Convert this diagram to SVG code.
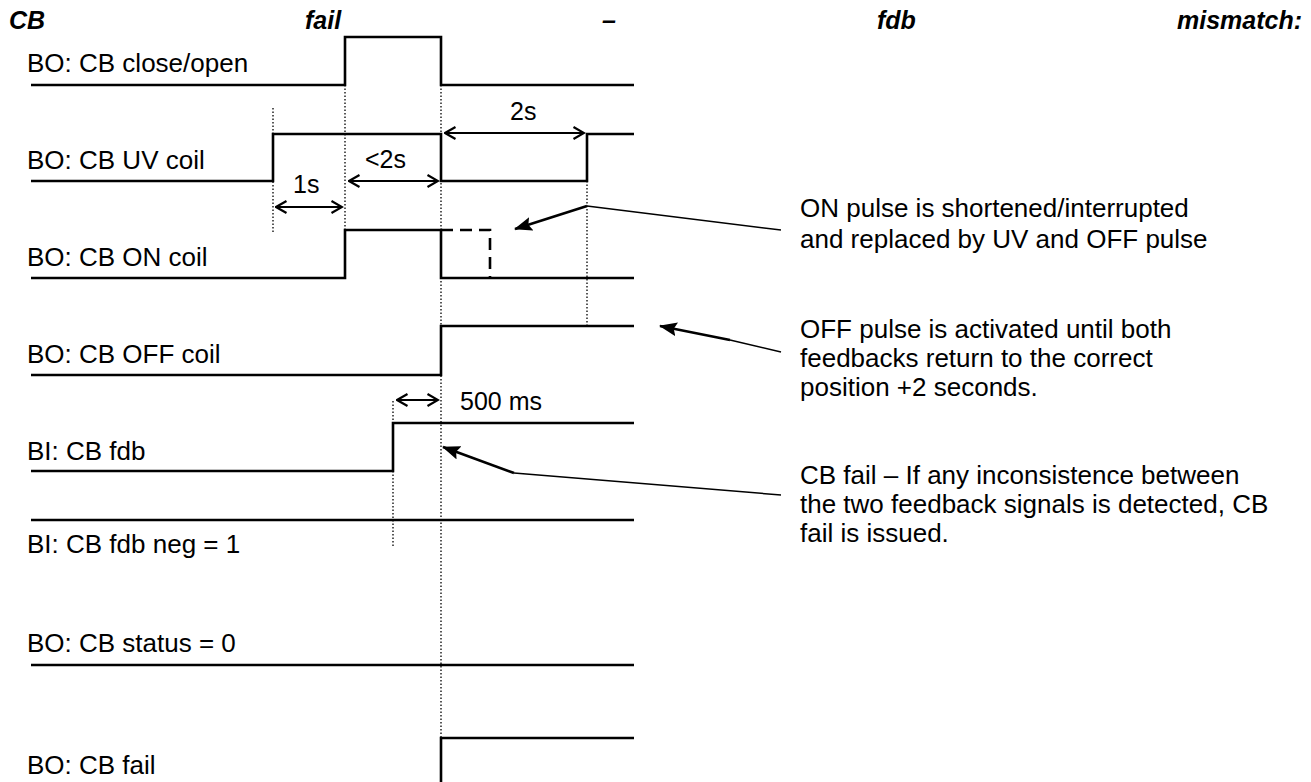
<svg xmlns="http://www.w3.org/2000/svg" width="1311" height="782" viewBox="0 0 1311 782">
<defs>
<marker id="open" viewBox="0 0 14 14" refX="12.5" refY="7" markerWidth="14" markerHeight="14" markerUnits="userSpaceOnUse" orient="auto-start-reverse">
<path d="M2,1 L12.5,7 L2,13" fill="none" stroke="#000" stroke-width="2.2"/>
</marker>
<marker id="solid" viewBox="0 0 18 14" refX="17" refY="7" markerWidth="18" markerHeight="14" markerUnits="userSpaceOnUse" orient="auto">
<path d="M0,0 L18,7 L0,14 L3,7 Z" fill="#000"/>
</marker>
<style>
text{font-family:"Liberation Sans",Arial,sans-serif;fill:#000}
.lbl{font-size:26px}
.ann{font-size:26px}
.dimt{font-size:25px}
.ttl{font-size:25px;font-weight:bold;font-style:italic}
.sig{fill:none;stroke:#000;stroke-width:2.6}
.dash{fill:none;stroke:#000;stroke-width:2.6;stroke-dasharray:12,7}
.dot{fill:none;stroke:#000;stroke-width:1.3;stroke-dasharray:1.5,2}
.dim{fill:none;stroke:#000;stroke-width:2.2;marker-start:url(#open);marker-end:url(#open)}
.lead{fill:none;stroke:#000;stroke-width:1.5}
.leadA{fill:none;stroke:#000;stroke-width:2.6;marker-end:url(#solid)}
</style>
</defs>
<g id="title">
<text class="ttl" x="9" y="29">CB</text>
<text class="ttl" x="305" y="29">fail</text>
<text class="ttl" x="602" y="29">–</text>
<text class="ttl" x="877" y="29">fdb</text>
<text class="ttl" x="1302" y="29" text-anchor="end">mismatch:</text>
</g>
<g id="dotted">
<path class="dot" d="M273,108 V232"/>
<path class="dot" d="M345,85 V230"/>
<path class="dot" d="M441,85 V738"/>
<path class="dot" d="M587,181 V325"/>
<path class="dot" d="M393,401 V546"/>
</g>
<g id="sig-closeopen">
<text class="lbl" x="27" y="72">BO: CB close/open</text>
<path class="sig" d="M31,85 H345 V37 H441 V85 H634"/>
</g>
<g id="sig-uv">
<text class="lbl" x="27" y="169">BO: CB UV coil</text>
<path class="sig" d="M31,181 H273 V134 H441 V181 H587 V134 H634"/>
</g>
<g id="sig-on">
<text class="lbl" x="27" y="266">BO: CB ON coil</text>
<path class="sig" d="M31,278 H345 V230 H441 V278 H634"/>
<path class="dash" d="M441,230 H490 V278"/>
</g>
<g id="sig-off">
<text class="lbl" x="27" y="363">BO: CB OFF coil</text>
<path class="sig" d="M31,375 H441 V326 H634"/>
</g>
<g id="sig-fdb">
<text class="lbl" x="27" y="460">BI: CB fdb</text>
<path class="sig" d="M31,471 H393 V423 H634"/>
</g>
<g id="sig-fdbneg">
<text class="lbl" x="27" y="553">BI: CB fdb neg = 1</text>
<path class="sig" d="M31,520 H634"/>
</g>
<g id="sig-status">
<text class="lbl" x="27" y="652">BO: CB status = 0</text>
<path class="sig" d="M31,665 H634"/>
</g>
<g id="sig-fail">
<text class="lbl" x="27" y="774">BO: CB fail</text>
<path class="sig" d="M441,782 V738 H634"/>
</g>
<g id="connectors">
<path class="dim" d="M445,133 H584"/>
<text class="dimt" x="510" y="120">2s</text>
<path class="dim" d="M349,181 H438"/>
<text class="dimt" x="365" y="168">&lt;2s</text>
<path class="dim" d="M276,207 H342"/>
<text class="dimt" x="293" y="193">1s</text>
<path class="dim" d="M397,400 H438"/>
<text class="dimt" x="460" y="410">500 ms</text>
<path class="lead" d="M781,230 L587,206"/>
<path class="leadA" d="M587,206 L515,229"/>
<path class="lead" d="M781,352 L730,340"/>
<path class="leadA" d="M730,340 L660,326"/>
<path class="lead" d="M781,495 L514,473"/>
<path class="leadA" d="M514,473 L443,447"/>
</g>
<g id="notes">
<text class="ann" x="800" y="217">ON pulse is shortened/interrupted</text>
<text class="ann" x="800" y="248">and replaced by UV and OFF pulse</text>
<text class="ann" x="800" y="338">OFF pulse is activated until both</text>
<text class="ann" x="800" y="367">feedbacks return to the correct</text>
<text class="ann" x="800" y="396">position +2 seconds.</text>
<text class="ann" x="800" y="484">CB fail – If any inconsistence between</text>
<text class="ann" x="800" y="513">the two feedback signals is detected, CB</text>
<text class="ann" x="800" y="542">fail is issued.</text>
</g>
</svg>
